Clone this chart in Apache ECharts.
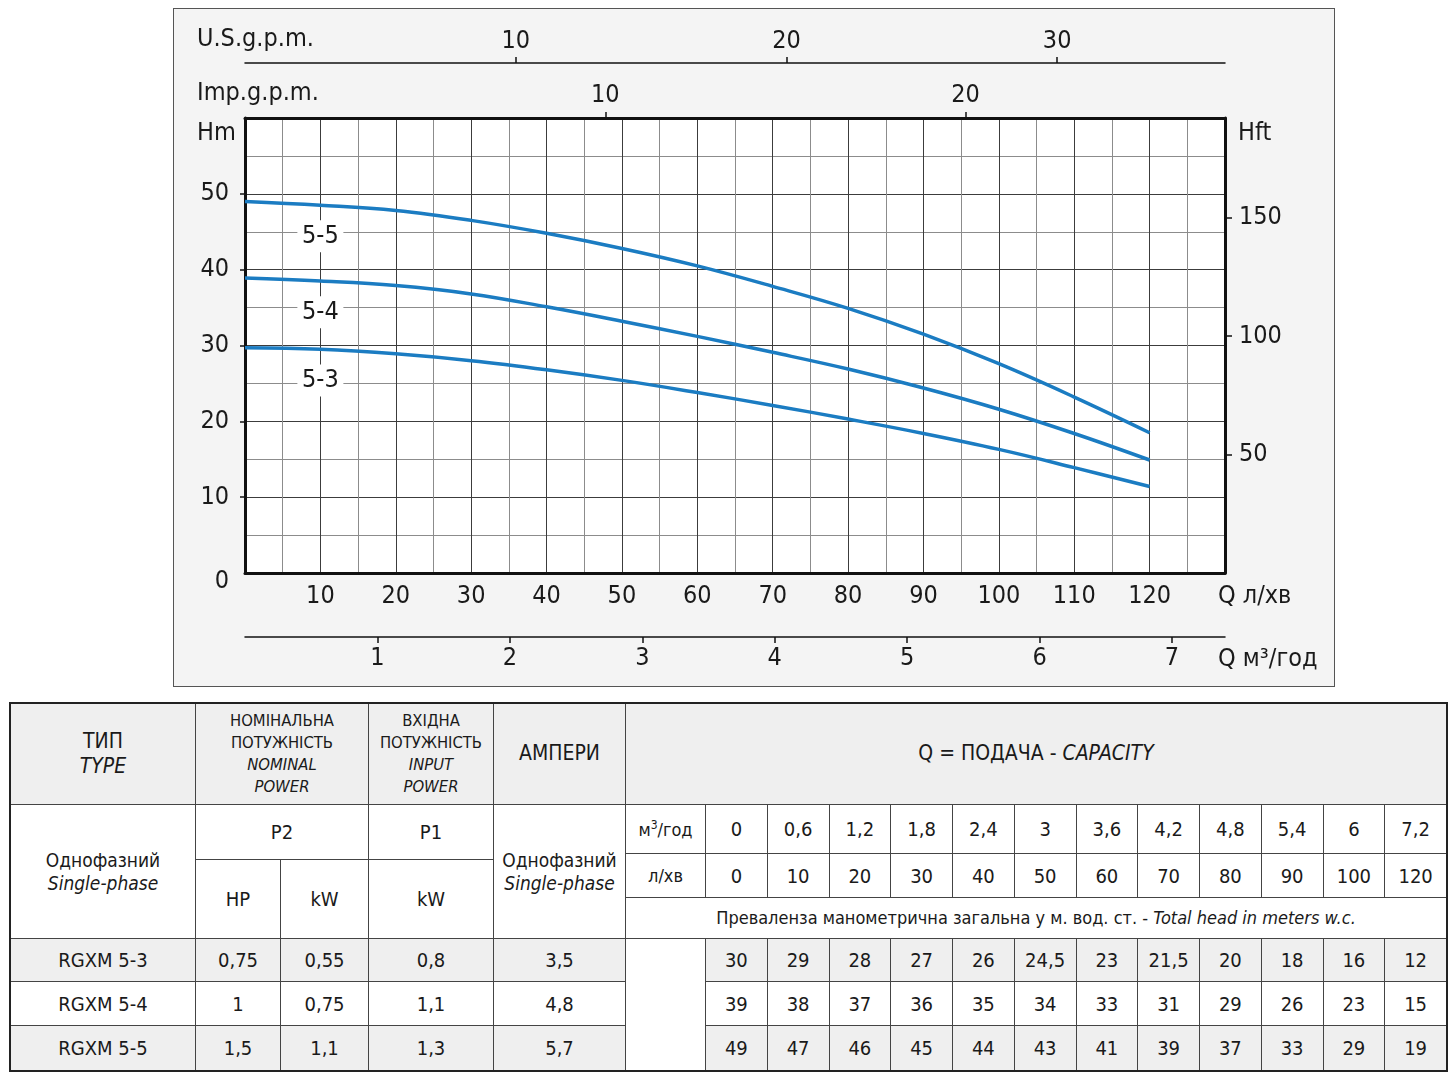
<!DOCTYPE html>
<html>
<head>
<meta charset="utf-8">
<script src="https://cdn.jsdelivr.net/npm/echarts@6/dist/echarts.min.js"></script>
<style>
  body { margin: 0; width: 1456px; height: 1076px; background: #fff; position: relative; color: #1a1a1a;
         font-family: "Liberation Sans Narrow", "DejaVu Sans Condensed", sans-serif; }
  #frame { position: absolute; left: 173px; top: 8px; width: 1162px; height: 679px; box-sizing: border-box;
           border: 1px solid #555; background: #f4f4f4; }
  #chart { position: absolute; left: 174px; top: 9px; width: 1160px; height: 677px; }
  #tbl { position: absolute; left: 0; top: 0; width: 1456px; height: 1076px; pointer-events: none; }
  .c { position: absolute; box-sizing: border-box; border: 1px solid #444; display: flex; align-items: center;
       justify-content: center; text-align: center; line-height: 1.2; font-size: 20px; }
  .g { background: #efefef; }
  .w { background: #fff; }
  .sm { font-size: 16.5px; line-height: 22px; }
  #tblBorder { position: absolute; left: 9px; top: 702px; width: 1439px; height: 370px; box-sizing: border-box;
               border: 2px solid #222; }
</style>
</head>
<body>
<div id="frame"></div>
<div id="chart"></div>
<div id="tbl"></div>
<div id="tblBorder"></div>
<script>
// table flow points, l/min and m3/h
const qLmin = [0, 10, 20, 30, 40, 50, 60, 70, 80, 90, 100, 120];
const qM3 = ['0', '0,6', '1,2', '1,8', '2,4', '3', '3,6', '4,2', '4,8', '5,4', '6', '7,2'];

// pump models
const models = ['RGXM 5-3', 'RGXM 5-4', 'RGXM 5-5'];
const curveNames = ['5-3', '5-4', '5-5'];
const powerHp = ['0,75', '1', '1,5'];
const powerKw = ['0,55', '0,75', '1,1'];
const inputKw = ['0,8', '1,1', '1,3'];
const amps = ['3,5', '4,8', '5,7'];

// total head in the table, m
const head53 = [30, 29, 28, 27, 26, 24.5, 23, 21.5, 20, 18, 16, 12];
const head54 = [39, 38, 37, 36, 35, 34, 33, 31, 29, 26, 23, 15];
const head55 = [49, 47, 46, 45, 44, 43, 41, 39, 37, 33, 29, 19];
const heads = [head53, head54, head55];

// curves as drawn on the graph, m
const curveQ = [0, 10, 20, 30, 40, 50, 60, 70, 80, 90, 100, 110, 120];
const curve53 = [29.7, 29.5, 28.9, 28.0, 26.8, 25.4, 23.8, 22.1, 20.3, 18.4, 16.3, 13.9, 11.4];
const curve54 = [38.9, 38.5, 37.9, 36.8, 35.1, 33.2, 31.2, 29.1, 26.9, 24.4, 21.6, 18.4, 14.9];
const curve55 = [49.0, 48.5, 47.8, 46.5, 44.8, 42.8, 40.5, 37.8, 34.9, 31.5, 27.6, 23.2, 18.5];
const curves = [curve53, curve54, curve55];

// axis tick labels
const lminTicks = [10, 20, 30, 40, 50, 60, 70, 80, 90, 100, 110, 120];
const m3Ticks = [1, 2, 3, 4, 5, 6, 7];
const usTicks = [10, 20, 30];
const impTicks = [10, 20];
const hmTicks = [0, 10, 20, 30, 40, 50];
const hftTicks = [50, 100, 150];

const FONT = '"Liberation Sans Narrow", "DejaVu Sans Condensed", sans-serif';
const INK = '#1a1a1a';
const FS = 25;

function lbl(margin) {
  return { fontFamily: FONT, fontSize: FS, color: INK, margin: margin };
}

const chart = echarts.init(document.getElementById('chart'));

const majorLine = { show: true, showMinLine: false, showMaxLine: false, lineStyle: { color: '#3c3c3c', width: 1 } };
const minorLine = { show: true, lineStyle: { color: '#8c8c8c', width: 1 } };

const option = {
  animation: false,
  textStyle: { fontFamily: FONT },
  grid: {
    left: 71, top: 109, width: 980, height: 455,
    containLabel: false, outerBoundsMode: 'none',
    show: true, backgroundColor: '#fff', borderWidth: 0,
  },
  xAxis: [
    {
      // Q l/min
      type: 'value', position: 'bottom', min: 0, max: 130, interval: 10,
      axisLine: { show: true, onZero: false, lineStyle: { color: '#111', width: 3 } },
      axisTick: { show: false },
      minorTick: { show: false, splitNumber: 2 },
      axisLabel: { ...lbl(11), customValues: lminTicks },
      splitLine: majorLine,
      minorSplitLine: minorLine,
    },
    {
      // Q m3/h
      type: 'value', position: 'bottom', offset: 64, min: 0, max: 7.4,
      axisLine: { show: true, onZero: false, lineStyle: { color: '#111', width: 1.5 } },
      axisTick: { show: true, customValues: m3Ticks, length: 6, lineStyle: { color: '#111', width: 1.5 } },
      axisLabel: { ...lbl(9), customValues: m3Ticks },
      splitLine: { show: false },
    },
    {
      // Imp.g.p.m.
      type: 'value', position: 'top', offset: 0, min: 0, max: 27.2,
      axisLine: { show: true, onZero: false, lineStyle: { color: '#111', width: 3 } },
      axisTick: { show: true, customValues: impTicks, length: 6, lineStyle: { color: '#111', width: 1.5 } },
      axisLabel: { ...lbl(10), customValues: impTicks },
      splitLine: { show: false },
    },
    {
      // U.S.g.p.m.
      type: 'value', position: 'top', offset: 55, min: 0, max: 36.2,
      axisLine: { show: true, onZero: false, lineStyle: { color: '#111', width: 1.5 } },
      axisTick: { show: true, customValues: usTicks, length: 6, lineStyle: { color: '#111', width: 1.5 } },
      axisLabel: { ...lbl(9), customValues: usTicks },
      splitLine: { show: false },
    },
  ],
  yAxis: [
    {
      // Hm
      type: 'value', position: 'left', min: 0, max: 60, interval: 10,
      axisLine: { show: true, onZero: false, lineStyle: { color: '#111', width: 3 } },
      axisTick: { show: false },
      minorTick: { show: false, splitNumber: 2 },
      axisLabel: {
        ...lbl(16),
        customValues: hmTicks,
        formatter: (v) => (v === 0 ? '{z|0}' : String(v)),
        rich: { z: { fontFamily: FONT, fontSize: FS, color: INK, padding: [17, 0, 0, 0] } },
      },
      splitLine: majorLine,
      minorSplitLine: minorLine,
    },
    {
      // Hft
      type: 'value', position: 'right', min: 0, max: 192,
      axisLine: { show: true, onZero: false, lineStyle: { color: '#111', width: 3 } },
      axisTick: { show: true, customValues: hftTicks, length: 7, lineStyle: { color: '#111', width: 1.5 } },
      axisLabel: { ...lbl(14), customValues: hftTicks },
      splitLine: { show: false },
    },
    {
      // only the small ticks on the left
      type: 'value', position: 'left', min: 0, max: 60,
      axisLine: { show: false },
      axisTick: { show: true, customValues: [10, 20, 30, 40, 50], length: 5, lineStyle: { color: '#111', width: 1.5 } },
      axisLabel: { show: false },
      splitLine: { show: false },
    },
  ],
  series: curveNames.map((name, i) => ({
    name: name,
    type: 'line',
    xAxisIndex: 0,
    yAxisIndex: 0,
    data: curveQ.map((q, k) => [q, curves[i][k]]),
    smooth: 0.4,
    symbol: 'none',
    lineStyle: { color: '#1b7cc2', width: 3.5 },
    markPoint: {
      symbol: 'rect',
      symbolSize: [46, 32],
      itemStyle: { color: '#fff' },
      label: { show: true, formatter: name, fontFamily: FONT, fontSize: 25, color: INK },
      data: [{ coord: [10, [25.4, 34.4, 44.4][i]] }],
    },
  })),
  graphic: [
    { type: 'text', left: 23, top: 18, style: { text: 'U.S.g.p.m.', font: FS + 'px ' + FONT, fill: INK } },
    { type: 'text', left: 23, top: 72, style: { text: 'Imp.g.p.m.', font: FS + 'px ' + FONT, fill: INK } },
    { type: 'text', left: 23, top: 112, style: { text: 'Hm', font: FS + 'px ' + FONT, fill: INK } },
    { type: 'text', left: 1064, top: 112, style: { text: 'Hft', font: FS + 'px ' + FONT, fill: INK } },
    { type: 'text', left: 1044, top: 575, style: { text: 'Q л/хв', font: FS + 'px ' + FONT, fill: INK } },
    { type: 'text', left: 1044, top: 638, style: { text: 'Q м³/год', font: FS + 'px ' + FONT, fill: INK } },
  ],
};
chart.setOption(option);

// ---- table below the chart ----
const tbl = document.getElementById('tbl');
function cell(x, y, w, h, html, cls) {
  const d = document.createElement('div');
  d.className = 'c ' + (cls || '');
  d.style.left = x + 'px';
  d.style.top = y + 'px';
  d.style.width = (w + 1) + 'px';
  d.style.height = (h + 1) + 'px';
  d.innerHTML = '<span>' + html + '</span>';
  tbl.appendChild(d);
  return d;
}
const comma = (v) => String(v).replace('.', ',');
const qColW = (1446 - 705) / 12;

// header row
cell(10, 703, 185, 101, 'ТИП<br><i>TYPE</i>', 'g').style.fontSize = '21px';
cell(195, 703, 173, 101, 'НОМІНАЛЬНА<br>ПОТУЖНІСТЬ<br><i>NOMINAL<br>POWER</i>', 'g sm');
cell(368, 703, 125, 101, 'ВХІДНА<br>ПОТУЖНІСТЬ<br><i>INPUT<br>POWER</i>', 'g sm');
cell(493, 703, 132, 101, 'АМПЕРИ', 'g').style.fontSize = '21px';
cell(625, 703, 821, 101, 'Q = ПОДАЧА - <i>CAPACITY</i>', 'g').style.fontSize = '21px';

// sub headers
cell(10, 804, 185, 134, 'Однофазний<br><i>Single-phase</i>', 'w').style.fontSize = '19px';
cell(195, 804, 173, 55, 'P2', 'w');
cell(368, 804, 125, 55, 'P1', 'w');
cell(195, 859, 85, 79, 'HP', 'w');
cell(280, 859, 88, 79, 'kW', 'w');
cell(368, 859, 125, 79, 'kW', 'w');
cell(493, 804, 132, 134, 'Однофазний<br><i>Single-phase</i>', 'w').style.fontSize = '19px';
cell(625, 804, 80, 49, 'м<sup style="font-size:12px">3</sup>/год', 'w').style.fontSize = '18px';
cell(625, 853, 80, 44, 'л/хв', 'w').style.fontSize = '18px';
qM3.forEach((v, k) => cell(705 + k * qColW, 804, qColW, 49, v, 'w'));
qLmin.forEach((v, k) => cell(705 + k * qColW, 853, qColW, 44, String(v), 'w'));
cell(625, 897, 821, 41,
  'Преваленза манометрична загальна у м. вод. ст. - <i>Total head in meters w.c.</i>', 'w').style.fontSize = '18px';

// data rows
const rowY = [938, 981, 1025, 1070];
models.forEach((m, i) => {
  const y = rowY[i], h = rowY[i + 1] - rowY[i];
  const cls = i === 1 ? 'w' : 'g';
  cell(10, y, 185, h, m, cls);
  cell(195, y, 85, h, powerHp[i], cls);
  cell(280, y, 88, h, powerKw[i], cls);
  cell(368, y, 125, h, inputKw[i], cls);
  cell(493, y, 132, h, amps[i], cls);
  heads[i].forEach((v, k) => cell(705 + k * qColW, y, qColW, h, comma(v), cls));
});
cell(625, 938, 80, 132, '', 'w');
</script>
</body>
</html>
